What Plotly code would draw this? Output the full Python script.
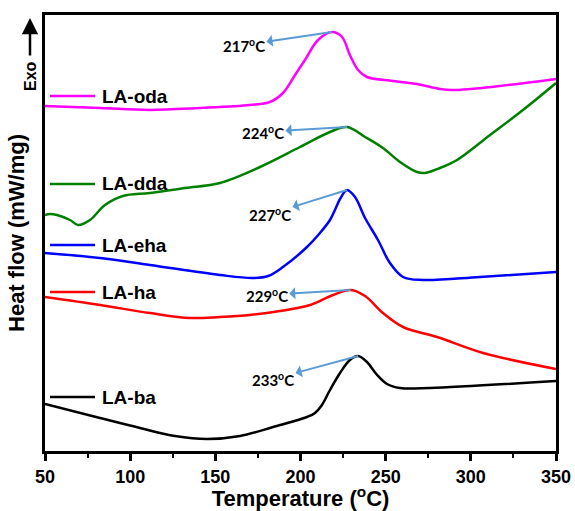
import numpy as np
import plotly.graph_objects as go

# ---- data (temperature in °C, heat flow in arbitrary offset units) ----
t_oda = [50, 82.3, 111.6, 141, 170.3, 182, 189.7, 196.8, 202.6, 210.3, 218.5, 224.4, 229, 233.8, 239, 254.3, 268.4, 281.9, 289.5, 317, 350]
hf_oda = [345, 343, 341, 343, 346, 349, 358, 376, 391, 411, 419, 414, 396, 381, 374, 370, 367, 362, 361, 365, 372]

t_dda = [50, 52.9, 57, 64.7, 69.4, 76.4, 85.2, 95.8, 111.6, 132.2, 152.7, 176.2, 199.7, 217.3, 227.3, 237.9, 248.4, 258.4, 268.4, 273.1, 281.9, 291.9, 311.3, 330.6, 350]
hf_dda = [236, 237, 236, 231, 226, 231, 246, 255, 258, 263, 268, 284, 304, 319, 324, 314, 303, 289, 279, 278, 283, 291, 316, 341, 368]

t_eha = [50, 82.3, 111.6, 152.7, 172, 181, 189.7, 203.8, 211.4, 217.3, 220.2, 223.2, 227.3, 232, 237.9, 245.5, 252.5, 260.2, 271.9, 305.4, 350]
hf_eha = [198, 193, 186, 176, 173, 175, 184, 204, 218, 231, 241, 252, 261, 254, 233, 211, 188, 174, 171, 174, 179]

t_ha = [50, 82.3, 111.6, 135.1, 152.7, 170.3, 187.9, 205.6, 219.1, 229.5, 237.9, 248.4, 260.2, 280.2, 307.2, 350]
hf_ha = [154, 146, 138, 133, 134, 136, 140, 146, 156, 161, 155, 138, 124, 114, 98, 82]

t_ba = [50, 82.3, 105.8, 126.3, 145.1, 164.5, 183.9, 203.8, 208.5, 212.6, 217.3, 223.2, 229, 233.8, 239, 245, 250.8, 258.4, 276, 350]
hf_ba = [47, 33, 23, 15, 12, 15, 24, 34, 38, 46, 61, 78, 91, 95, 89, 76, 67, 63, 63, 70]

names = ["LA-oda", "LA-dda", "LA-eha", "LA-ha", "LA-ba"]
colors = ["#FF00FF", "#008000", "#0000FF", "#FF0000", "#000000"]
peak_labels = ["217", "224", "227", "229", "233"]
peak_temps = [217, 224, 227, 229, 233]

series = [(t_oda, hf_oda), (t_dda, hf_dda), (t_eha, hf_eha), (t_ha, hf_ha), (t_ba, hf_ba)]

fig = go.Figure()
for (t, h), n, c in zip(series, names, colors):
    fig.add_trace(go.Scatter(x=t, y=h, mode="lines", name=n,
                             line=dict(color=c, width=2.5, shape="spline", smoothing=1.0),
                             showlegend=False))

# layout geometry (pixels)
L, R, T, B = 45, 19, 15, 60
W, H = 575, 511
pw, ph = W - L - R, H - T - B

def px_to_paper_x(px):
    return (px - L) / pw

def py_to_paper_y(py):
    return (H - B - py) / ph

# inline legend labels
legend_py = [96, 184, 245, 292, 397]
for n, c, py in zip(names, colors, legend_py):
    yp = py_to_paper_y(py)
    fig.add_shape(type="line", xref="paper", yref="paper",
                  x0=px_to_paper_x(50), x1=px_to_paper_x(95), y0=yp, y1=yp,
                  line=dict(color=c, width=2.5))
    fig.add_annotation(xref="paper", yref="paper", x=px_to_paper_x(100), y=yp,
                       text="<b>%s</b>" % n, showarrow=False, xanchor="left", yanchor="middle",
                       font=dict(family="Arial, Liberation Sans", size=19, color="black"))

# peak annotations with arrows (arrow head at the text); tail at local peak of each curve
offsets = [(-88, 13), (-84, 5), (-77, 24), (-84, 5), (-85, 23)]
for (t, h), lab, pt, (ax, ay) in zip(series, peak_labels, peak_temps, offsets):
    ta, ha = np.array(t), np.array(h)
    win = np.abs(ta - pt) <= 15
    i = int(np.flatnonzero(win)[np.argmax(ha[win])])
    fig.add_annotation(x=t[i], y=h[i], text="<b>%s<sup>o</sup>C</b>" % lab,
                       showarrow=True, arrowside="start", arrowhead=2, arrowsize=1,
                       arrowwidth=2, arrowcolor="#5B9BD5", ax=ax, ay=ay,
                       font=dict(family="Lato, Open Sans", size=15, color="black"))

# Exo arrow
fig.add_annotation(xref="paper", yref="paper", x=px_to_paper_x(30), y=py_to_paper_y(18),
                   ax=0, ay=39, axref="pixel", ayref="pixel",
                   text="", showarrow=True, arrowhead=2, arrowsize=1.3, arrowwidth=2.5,
                   arrowcolor="black")
fig.add_annotation(xref="paper", yref="paper", x=px_to_paper_x(30), y=py_to_paper_y(76),
                   text="<b>Exo</b>", showarrow=False, textangle=-90,
                   xanchor="center", yanchor="middle",
                   font=dict(family="Arial, Liberation Sans", size=16, color="black"))

fig.update_layout(
    width=W, height=H,
    margin=dict(l=L, r=R, t=T, b=B, autoexpand=False),
    plot_bgcolor="white", paper_bgcolor="white",
    font=dict(family="Arial, Liberation Sans", color="black"),
    xaxis=dict(range=[50, 350], dtick=50, tick0=50, showgrid=False, zeroline=False,
               automargin=False,
               showline=True, linewidth=3, linecolor="black", mirror=True,
               ticks="outside", ticklen=7, tickwidth=2.5, tickcolor="black",
               minor=dict(dtick=25, tick0=50, ticks="outside", ticklen=4, tickwidth=2, tickcolor="black"),
               tickfont=dict(size=18, family="Arial, Liberation Sans"),
               tickprefix="<b>", ticksuffix="</b>",
               title=dict(text="<b>Temperature (<sup>o</sup>C)</b>", font=dict(size=22), standoff=0)),
    yaxis=dict(range=[0, 436], showgrid=False, zeroline=False, showticklabels=False,
               automargin=False,
               showline=True, linewidth=3, linecolor="black", mirror=True, ticks="",
               title=dict(text="<b>Heat flow (mW/mg)</b>", font=dict(size=22), standoff=12)),
)

fig.write_html("out.html")
